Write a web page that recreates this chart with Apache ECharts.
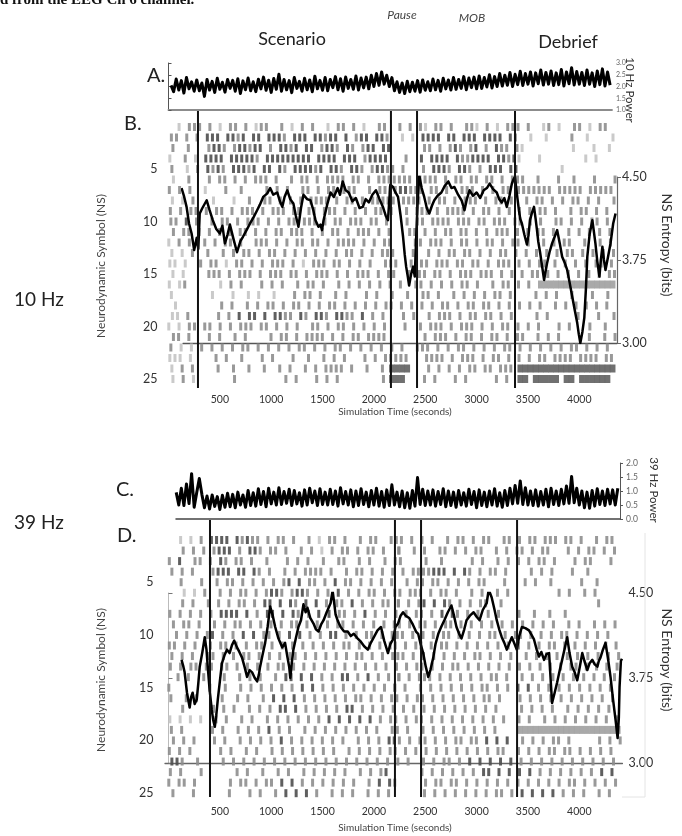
<!DOCTYPE html>
<html><head><meta charset="utf-8">
<script src="https://cdn.jsdelivr.net/npm/echarts@6/dist/echarts.min.js"></script>
<style>html,body{margin:0;padding:0;background:#fff}#c{width:682px;height:836px}</style>
</head><body><div id="c"></div>
<script>
// ---------------- data ----------------
const phaseLabels = ['Scenario','Pause','MOB','Debrief'];
const timeTicks = [500,1000,1500,2000,2500,3000,3500,4000];
const nsTicks = [5,10,15,20,25];
const entropyTicks = [3.00,3.75,4.50];
const eventTimesB = [287, 2166, 2420, 3374];
const eventTimesD = [404, 2205, 2459, 3394];

const powerStep = 25;
const powerStartA = 25;
const powerA = [
2.05,1.78,2.32,1.85,2.25,1.72,2.38,1.90,2.20,1.80,
2.28,1.82,2.15,1.58,2.30,1.85,2.22,1.75,2.35,1.88,
2.18,1.76,2.30,1.92,2.26,1.80,2.33,1.70,2.24,1.86,
2.36,1.82,2.20,1.78,2.31,1.90,2.40,1.84,2.27,1.75,
2.34,1.88,2.52,1.80,2.30,1.86,2.25,1.74,2.38,1.92,
2.22,1.80,2.35,1.86,2.28,1.78,2.44,1.90,2.26,1.84,
2.38,1.82,2.30,1.95,2.42,1.86,2.33,1.80,2.40,1.92,
2.30,1.88,2.45,1.85,2.36,1.94,2.40,1.90,2.48,2.00,
2.55,2.05,2.62,2.10,2.48,2.00,2.38,1.82,2.20,1.75,
2.15,1.70,2.22,1.78,2.18,1.80,2.25,1.76,2.28,1.84,
2.20,1.82,2.32,1.86,2.26,1.80,2.35,1.90,2.28,1.85,
2.38,1.88,2.30,1.92,2.42,1.86,2.36,1.95,2.40,1.90,
2.45,1.92,2.38,1.98,2.50,1.94,2.42,2.00,2.55,2.02,
2.48,2.05,2.60,2.00,2.52,2.08,2.65,2.04,2.55,2.10,
2.62,2.02,2.58,2.12,2.70,2.06,2.60,2.10,2.66,2.04,
2.58,2.08,2.72,2.02,2.62,2.12,2.80,2.06,2.64,2.10,
2.60,2.04,2.70,2.10,2.58,2.00,2.66,2.08,2.75,2.02,
2.62,2.06];

const powerStartC = 75;
const powerC = [
0.95,0.50,1.10,0.48,1.25,0.55,1.62,0.42,0.95,1.45,
0.88,0.40,0.82,0.36,0.86,0.45,0.80,0.34,0.85,0.42,
0.92,0.44,0.88,0.40,0.96,0.50,0.86,0.42,1.02,0.48,
0.94,0.46,1.08,0.52,0.98,0.44,1.10,0.54,0.96,0.50,
1.12,0.52,0.98,0.56,1.06,0.48,1.02,0.54,0.94,0.46,
1.04,0.50,1.10,0.58,1.00,0.48,1.08,0.52,0.96,0.50,
1.06,0.52,1.00,0.46,1.12,0.54,0.98,0.50,1.04,0.44,
1.00,0.48,1.08,0.52,0.96,0.44,1.02,0.50,1.10,0.46,
0.98,0.42,1.04,0.48,1.22,0.50,0.96,0.44,1.00,0.40,
0.94,0.38,1.02,0.46,1.48,0.52,1.06,0.48,1.00,0.50,
1.04,0.46,0.98,0.52,1.08,0.44,1.00,0.48,0.96,0.42,
1.02,0.50,0.94,0.46,1.06,0.52,0.98,0.40,1.04,0.48,
0.96,0.44,1.00,0.50,1.08,0.46,0.94,0.42,1.02,0.48,
1.10,0.54,1.20,0.56,1.36,0.52,1.12,0.50,1.00,0.48,
1.04,0.46,0.98,0.50,1.06,0.44,1.10,0.52,1.00,0.48,
1.06,0.54,1.18,0.56,1.52,0.58,1.10,0.50,1.00,0.40,
0.96,0.38,1.02,0.46,1.08,0.52,1.00,0.48,1.06,0.54,
1.04,0.50,1.10];

const entropyTimeB = [127,150,176,200,225,250,275,290,304,330,372,400,431,465,500,525,549,575,598,630,667,700,725,760,794,830,863,890,922,960,990,1020,1059,1085,1108,1130,1157,1185,1216,1240,1265,1290,1314,1350,1382,1410,1431,1460,1480,1495,1510,1545,1578,1610,1647,1670,1696,1725,1755,1790,1824,1860,1892,1920,1951,1985,2020,2055,2088,2115,2137,2160,2186,2210,2235,2260,2284,2300,2314,2330,2343,2362,2382,2398,2412,2425,2441,2465,2490,2515,2539,2565,2588,2620,2657,2690,2725,2755,2784,2820,2853,2870,2882,2905,2931,2965,3000,3035,3069,3100,3127,3160,3196,3220,3245,3270,3294,3320,3343,3360,3373,3392,3412,3425,3441,3465,3490,3505,3520,3540,3559,3575,3588,3600,3618,3640,3657,3670,3686,3710,3735,3760,3784,3810,3833,3860,3882,3905,3931,3955,3980,3995,4010,4030,4049,4065,4078,4100,4127,4140,4157,4175,4196,4210,4225,4240,4255,4280,4304,4330,4353];
const entropyB = [4.40,4.33,4.23,4.08,3.99,3.84,3.95,3.85,4.17,4.22,4.29,4.20,4.11,4.03,3.99,4.06,3.90,3.98,4.07,3.95,3.82,3.92,3.96,4.02,4.08,4.14,4.20,4.25,4.32,4.35,4.40,4.34,4.36,4.28,4.23,4.32,4.38,4.30,4.26,4.15,4.05,4.22,4.34,4.30,4.29,4.20,4.11,4.05,4.07,4.02,4.11,4.25,4.36,4.32,4.40,4.34,4.46,4.38,4.36,4.28,4.31,4.22,4.23,4.30,4.27,4.34,4.38,4.30,4.23,4.15,4.11,4.43,4.41,4.36,4.32,4.15,3.96,3.80,3.69,3.60,3.52,3.62,3.69,3.60,3.96,4.25,4.52,4.40,4.32,4.22,4.17,4.24,4.29,4.33,4.36,4.42,4.46,4.40,4.41,4.34,4.29,4.24,4.20,4.30,4.38,4.33,4.36,4.31,4.38,4.40,4.44,4.39,4.36,4.30,4.27,4.31,4.23,4.33,4.44,4.48,4.50,4.35,4.20,4.12,4.08,3.98,3.89,3.97,4.11,4.18,4.23,4.12,4.02,3.92,3.82,3.68,3.57,3.64,3.72,3.82,3.90,3.96,4.02,3.90,3.78,3.72,3.66,3.55,3.42,3.30,3.18,3.08,3.00,3.10,3.23,3.50,3.78,3.98,4.11,4.02,3.90,3.74,3.60,3.75,3.87,3.75,3.66,3.78,3.90,4.08,4.17];

const entropyTimeD = [127,145,157,180,206,220,235,255,275,290,304,330,353,370,382,400,421,435,451,465,480,500,520,545,569,595,618,640,667,690,716,740,765,790,814,840,863,880,892,915,941,965,990,1015,1039,1070,1108,1135,1157,1175,1186,1200,1216,1240,1265,1290,1314,1335,1353,1380,1412,1435,1461,1485,1510,1540,1578,1598,1615,1627,1650,1676,1710,1745,1775,1804,1840,1873,1905,1941,1970,2000,2035,2069,2100,2137,2160,2186,2210,2235,2260,2284,2310,2343,2380,2410,2431,2455,2480,2505,2529,2550,2578,2600,2627,2655,2686,2720,2755,2780,2804,2830,2853,2880,2902,2935,2971,3000,3029,3060,3098,3118,3147,3175,3196,3220,3245,3270,3294,3320,3343,3370,3392,3415,3441,3475,3510,3535,3559,3585,3608,3630,3657,3680,3706,3720,3735,3760,3784,3810,3833,3860,3882,3905,3931,3955,3980,4005,4029,4050,4078,4100,4127,4150,4176,4190,4206,4230,4255,4280,4304,4330,4353,4373,4385,4392,4405,4415];
const entropyD = [3.91,3.85,3.80,3.62,3.49,3.58,3.62,3.52,3.56,3.70,3.85,3.98,4.11,4.00,3.85,3.65,3.47,3.38,3.32,3.42,3.56,3.72,3.88,3.95,4.00,3.97,4.04,4.08,4.02,3.98,3.93,3.85,3.76,3.82,3.80,3.75,3.72,3.78,3.85,3.95,4.06,4.20,4.38,4.30,4.20,4.10,4.02,4.06,3.94,3.85,3.75,3.88,4.00,4.10,4.20,4.26,4.40,4.33,4.37,4.28,4.23,4.18,4.16,4.22,4.26,4.33,4.41,4.52,4.40,4.31,4.25,4.20,4.16,4.16,4.12,4.14,4.10,4.07,4.03,4.00,4.06,4.11,4.17,4.20,4.08,3.97,4.05,4.09,4.20,4.23,4.30,4.33,4.30,4.28,4.22,4.16,4.14,4.05,3.97,3.85,3.76,3.82,3.93,4.05,4.14,4.20,4.26,4.33,4.39,4.30,4.20,4.14,4.10,4.18,4.26,4.30,4.33,4.29,4.26,4.35,4.41,4.53,4.46,4.35,4.26,4.18,4.11,4.06,4.00,4.06,4.11,4.05,4.00,4.12,4.20,4.19,4.17,4.13,4.09,4.00,3.94,3.98,3.91,3.96,3.97,3.75,3.53,3.62,3.71,3.82,3.91,4.02,4.11,3.97,3.85,3.80,3.73,3.85,3.97,3.90,3.82,3.88,3.91,3.87,3.85,3.90,3.93,4.00,4.06,3.92,3.76,3.55,3.38,3.22,3.40,3.67,3.90,3.92];

// raster: one string per NS row (1..25); '|' separates segments starting at segStart times;
// one char per 50 s bin, offset by the row's own time shift (seconds)
const rasterBin = 50;
const segStartB = [0,300,2150,2450,3400];
const segStartD = [0,400,2200,2450,3400];
const rowShiftB = [0,25,40,10,30,45,5,35,15,20,45,0,30,10,40,5,25,15,35,0,45,20,10,30,40];
const rowShiftD = [15,40,5,30,20,0,35,10,45,25,5,30,15,40,0,20,35,10,25,45,5,30,15,0,40];
const rasterB = [
"..1.22|2.2.1.22.2.122..2.1.2.2..1.22.2.1..22|..2.2.|21.22.2..221.2.1.22|2.2..12.1..22.1.22.",
"22.2.2|.333.3323.33.3332.333.33233.3.233.332|..1.1.|3333.33.333.3333.32|..1..1....2..1....1",
"2..2..|.2332.233233.2.3323.33.2332.32.233.33|......|22.2.232.23.2.322.2|1.........1...1..1.",
"1..2.1|.3333.333332.333333333.3333.333.23333|...2..|3.3333.3223333.3323|1...1........1.1...",
"2..1.2|.3232.33323.33.32.333323.332.332.2332|2.2...|2.3332.332.2.333.33|........1..........",
"1..2..|.2.22.2.2.222.2..2.22.2.2222.22.2.222|2222.2|222.2.22.22.22.2.22|2..2...2..2...2...2",
"2.2.2.|.1...2..2....2.2.2..22.2.22.222..2.22|223322|2.22.2..222.2.2.22.|2222222.22222.22222",
"1.1.2.|..1...1..2..22.2.2.2.2222.2.22.2.2222|2.2222|.2.22.2.222.2.22.2.|.2.22.2.2.22.2.2..2",
"2.2.22|.2.22.2.222.2.222.22.22.222.2.2.2.22.|2..2.2|22.2.2222.2.22.2.2.|2.2.22.2..2.22.2.2.",
"22.3.2|..2.22.2.222.2.2.22.222.2.22.222.22.2|...2.2|2.2222.222.22.222.2|2.2.2..22.2.2.22.2.",
"2.22.2|.2.2.2.22.2.2.22.222.2.2.22.2.222.2.2|...22.|2.2.22.22.2.2.222.2|.2.22.2..2.2.2.2.2.",
"1.2.2.|.2.2.22.2..222.2.2.22.22.2.2222.2.2.2|2....2|2.222.2.22.2.22.2.2|2.2..2.2.22..2..2.2",
"1.1.2.|.2..2.2.22.2.22.2.2.2.2.2.2.22.2.2.22|2...2.|.2.2.22.22.2.2.22.2|.2.2.2.2.22.2.2.2.2",
"11.1..|2.22.1.22.2.2.222.2.1.222.22.2.2.2..2|22..2.|22.222.22.22.2.222.|2.2.22.2.2.2.2.22.2",
"1.1...|.222.2.222.2.222.22.2.222.2.2.222.2.2|2..2.2|2.22.2.222.222.2.2.|2.22.2.2.2.2.2.2.22",
"1.12..|....1.2.2...2.2.2..2.22.2..2.2.2.2.2.|2.2..2|2.2.2.2.22.2..2.22.|2.2.ggggggggggggggg",
"1.....|..1...1..1.1..1...2.22.2..2.2...2.2..|2..2..|22.2..2.2.2.2.22.2.|...2.2.2..2...2..2.",
".1....|....2.2..2.2.22.2.22.2.2.22.2.2.2.2.2|2.2.2.|2.2.22.2.22.22.2.2.|2.2.2..2.2.2.2.2.2.",
"11.2..|...2.2.3.33.3.3322.32.332.3322.3.2.2.|..2.2.|.2.222.2.22.22.2.2.|...2.2.....2...2..2",
"1.1.22|.22.2.2.222.22.2.2.2..22.2.22.2.2.2.2|...2..|2.222.2.222.2.2.22.|2.2.2...2.2...2..2.",
"22.2..|.2.2..2.2....2.22.2.2222.2.2.22.2222.|......|2.222.2.22.2.22.2.2|2..2.2.2.....2..2.2",
"2.1.1.|2.2.2.2.22.2.2.2.2.22.2.2.22.2.2.2.2.2|2.2..2|22.2.2.22.2.2.2.22.|2.2.2.2.2.22.2.2.2.",
"111.1.|...2.2..2...2.2...2..2..2.2.2...2.2.2|2222..|.2222.2.222.2.22.2.|2.2.22.2222.2222.22",
"1.2.2.|...2..2..2..2..2.2..2.2.2222.2..2..2.|GGGG..|.2.2.2.2.22.22.222.|GGGGGGGGGGGGGGGGGGG",
"1.2.1.|......2.........2.2...2.2.2........2.|GGG...|2.2...2.2.....2.2..|GG.GGGGG.GG.GGGGGG"
];
const rasterD = [
"..1.1.2.|3333.32322.2.22.2..2.1.22.2..2.22..22|.2.2.|2.2..2.22.2.22..22.|2.22.222.22.2..2.22.",
"..2.2.2.|2333.2.332.22.2..2.2.1.2.22.2.22.2..2|2..2.|2..22.2.2.22..2.2.2|2.2.22...2.2.22.2.2.",
"2.3..22.|2.32.22.2..2...2.2.2..2..22..2.2..2.|22...|.2..2.....2.2..2.2.|2.2.22.2...2.22...2.",
"2.2.2...|2333.33.32.2..2.2.2222.2..2.22.2.2.2.|.2.22|22333.3.32.2.22.2..|..2.2.2...2..2......",
"..2...2.|.2.22.2.2.2.2.23.3.22.2.3.22.2.2.2.2|..2.2|2.22.2.2.2.22...2..|.2.2..2.....2..2....",
"...1.1.2|..2.2.22.2.2332.2332.2.2.3.2.2.22.2.2|.2.22|2.2.22.2..2.2..2.2.|........2.2..2.2....",
"..2.2..2|.2.2.22.2.33.3.32.3.3.2.22.3.2.2.22.2|2.2.2|3.3.32.2.2.22..2...|...............2....",
"2.2.2.2.|2.3333.3.2.33.3.32.2.3.3.22.2.3.2.2.2|2.2.2|2.2.3.32.2.2.2.2...|2..2..2..2..........",
"2.22.2..|2.2.22.2.2.2.2.22.2.2.2.22.2.2.2.2.2.|2.2.2|2.2.22.2.2.2.2.2.2.|2.2.2.2..2.2..2.2.2.",
".2.2.2.2|3.2.2.3.3.22.2.3.3.2.2.33.2.2.22.2.2.|22.2.|2.2.22.2.2.2.22.2.2|2.2.2.2.22.2.2.2.2..",
"22.2.2..|2.22.2.2.22.2.2.2.2.2.2.2.22.2.2.2.2.|2.2.2|2.2.22.2.2.2.2.2.2.|2.2.2.22.2.2.2.2.2.2",
"2.2.2..2|2.2.2.22.2.2.2.22.2.2.2.2.2.22.2.2.2.|22.2.|2.2.2.2.2.22.2.2.2.|.2.2.2.2.2.2.2.2.2.2",
"2.2.22.2|2.22.2.2.2.2.22.2.2.2.2.2.2.2.2.2.2.2|2.2.2|2.2.2.22.2.2.2.2.2.|2.2.2.2.2.22.2.2.2.2",
".2.2..2.|..2..2.2.2..2.33.3.3.2.2.33.2.3.2.2.2|2.2.2|22.2.2.2.2.2.22.2..|2.2.2.2.2.2.2.2.2.2.",
"2.......|2..2..2.2.2.2.2.2.3.3.2.2.2.2.2.2.2.2|2.2..|2.2.2.2.2.2.22.2.2.|3.3.2.2.2.2.2.2.2.2.",
"2..2.2..|..2..2.2..2.3.3.3.2.2.2.2.2.22.2.2.2.|2.2.2|2.2.2.2.2.2.22.2...|2.2.2.2.2.2.2.2.2.2.",
"..2.....|2.2.2..2.2.2.33.3.2.2.2.2.33.2.2.2.2.|.2.2.|2.2.2.2.2.2.2.2....|2.2.2.2..2.2.2.2.2..",
"1.1.1.1.|.2.2..2.2..2.2.2.2.2.2.3.3.3.3.3.2.2.|2.2.2|2.2.2.2.2.2.2.2.2..|2.2..2.2.2.2.2.2.2.2",
"2.2.....|2.2..2.2.2.3.2.2..2.2.2.2.2.2.2.2..2.|2.2..|2.2.2.2.2.2.2.2....|gggggggggggggggggggg",
"2.2.2...|2.2..2.2.2.2.3.2.2.2.2.2.2..2.2.2.33.|2.2.2|2.2.2.22.22.3.3.3..|2.2.2.22.2.....2.2.2",
"2.2.2...|..2.2..2.2..2.2.2.2.2.2.2..2.2.2.2.2.|2.2.2|.2.2.2.2.2.2.2.22..|2.2.2.22.22.2.2.2.2.",
"332..2..|..2.2.2.2.2.2.2.2.2.2.2.2.2.2.2.2.2..|2.2..|2.2.22.2.3.3.3.3.3.|2.2.2.2.2.2.2.2.2.2.",
"2.2...2.|.....2.2..2..2.2..2.2.2.2.2..2.2.23.|.....|2.2.2.2.2.2.33.3.3.|3.3.2.2.2.2.2.2.3.3.",
"2.22.2..|....2.22.2.22.3.3.2.2.2.2.2.2..2.3.3.|2....|.2.22.22.2.2.2.2.2.|2.2.2.2.2.22.2.2.2.2",
"2...2...|...2...2.2..2.3.3.3.2..2.2.2..2.2.2..|.....|2.2.2.2.2.2.2.22.2.|3.3.3.3.2.2.2..2.2.."
];

// ---------------- helpers ----------------
const SHADE = {'1':'#c4c4c4','2':'#8e8e8e','3':'#4e4e4e','g':'#a0a0a0','G':'#606060'};
function rasterData(rows, segStart, shifts){
  const out=[];
  rows.forEach((s,r)=>{
    s.split('|').forEach((seg,k)=>{
      for(let i=0;i<seg.length;i++){
        const ch=seg[i]; if(!SHADE[ch]) continue;
        const wide = (ch==='g'||ch==='G');
        const t = segStart[k]+(i+0.5)*rasterBin + (wide?0:shifts[r]-22);
        out.push({value:[t, r+1], symbolSize:[wide?5.6:3, 8], itemStyle:{color:SHADE[ch]}});
      }
    });
  });
  return out;
}
const pairs=(ts,vs)=>ts.slice(0,Math.min(ts.length,vs.length)).map((t,i)=>[t,vs[i]]);
const sampled=(start,vals)=>vals.map((v,i)=>[start+i*powerStep, v]);

const K = 0.1027;           // px per second
const X0 = 168.5;           // x pixel of t = 0
const FONT = 'Lato';
function gridX(min,max){ return {left: X0+min*K, width:(max-min)*K}; }

const hiddenX = (gi,min,max,extra)=>Object.assign({type:'value',gridIndex:gi,min:min,max:max,show:true,
  axisLine:{show:false},axisTick:{show:false},axisLabel:{show:false},splitLine:{show:false}},extra||{});
const hiddenY = (gi,min,max,extra)=>Object.assign({type:'value',gridIndex:gi,min:min,max:max,
  axisLine:{show:false},axisTick:{show:false},axisLabel:{show:false},splitLine:{show:false}},extra||{});

const timeLabel = v => timeTicks.indexOf(v)>=0 ? String(v) : '';
const nsLabel = v => nsTicks.indexOf(v)>=0 ? String(v) : '';
const entLabel = v => entropyTicks.some(e=>Math.abs(e-v)<1e-6) ? v.toFixed(2) : '';

const grids = [
  Object.assign({top:63, height:47}, gridX(0,4318)),          //0 A power
  Object.assign({top:116.5, height:273}, gridX(0,4450)),      //1 B raster
  Object.assign({top:177, height:166}, gridX(141,4367)),      //2 B entropy
  Object.assign({top:111, height:277}, gridX(0,4450)),        //3 B events
  Object.assign({top:463, height:56}, gridX(73,4396)),        //4 C power
  Object.assign({top:529.45, height:274.3}, gridX(0,4450)),   //5 D raster
  Object.assign({top:593, height:170}, gridX(-34,4420)),      //6 D entropy
  Object.assign({top:520, height:277}, gridX(0,4450))         //7 D events
].map(g=>Object.assign({containLabel:false, outerBoundsMode:'none'}, g));

const xAxes = [
  hiddenX(0,0,4318,{axisLine:{show:true,lineStyle:{color:'#8c8c8c',width:2}}}),
  hiddenX(1,0,4450,{interval:500,axisLabel:{show:true,formatter:timeLabel,color:'#333',fontSize:10.5,fontFamily:FONT,margin:5,showMinLabel:false,showMaxLabel:false}}),
  hiddenX(2,141,4367,{axisLine:{show:true,onZero:false,lineStyle:{color:'#555',width:1.3}}}),
  hiddenX(3,0,4450),
  hiddenX(4,73,4396,{axisLine:{show:true,lineStyle:{color:'#444',width:1.5}}}),
  hiddenX(5,0,4450,{interval:500,axisLabel:{show:true,formatter:timeLabel,color:'#333',fontSize:10.5,fontFamily:FONT,margin:2,showMinLabel:false,showMaxLabel:false}}),
  hiddenX(6,-34,4420,{axisLine:{show:true,onZero:false,lineStyle:{color:'#666',width:1.3}}}),
  hiddenX(7,0,4450)
];

const yAxes = [
  {type:'value',gridIndex:0,position:'right',min:1,max:3,interval:0.5,
   axisLine:{show:true,lineStyle:{color:'#555',width:1}},axisTick:{show:true,length:3,lineStyle:{color:'#555'}},
   axisLabel:{color:'#666',fontSize:7,fontFamily:FONT,margin:4,formatter:v=>v.toFixed(1)},splitLine:{show:false}},
  {type:'value',gridIndex:1,inverse:true,min:0,max:26,interval:5,
   axisLine:{show:false},axisTick:{show:false},splitLine:{show:false},
   axisLabel:{formatter:nsLabel,color:'#333',fontSize:12.5,fontFamily:FONT,margin:11}},
  {type:'value',gridIndex:2,position:'right',min:3,max:4.5,interval:0.75,
   axisLine:{show:true,lineStyle:{color:'#666',width:1.2}},axisTick:{show:true,length:4,lineStyle:{color:'#666'}},
   axisLabel:{formatter:entLabel,color:'#333',fontSize:12.5,fontFamily:FONT,margin:5},splitLine:{show:false}},
  hiddenY(3,0,1),
  {type:'value',gridIndex:4,position:'right',min:0,max:2,interval:0.5,
   axisLine:{show:true,lineStyle:{color:'#555',width:1}},axisTick:{show:true,length:3,lineStyle:{color:'#555'}},
   axisLabel:{color:'#666',fontSize:8.5,fontFamily:FONT,margin:6,formatter:v=>v.toFixed(1)},splitLine:{show:false}},
  {type:'value',gridIndex:5,inverse:true,min:0,max:26,interval:5,
   axisLine:{show:false},axisTick:{show:false},splitLine:{show:false},
   axisLabel:{formatter:nsLabel,color:'#333',fontSize:12.5,fontFamily:FONT,margin:15}},
  {type:'value',gridIndex:6,position:'right',min:3,max:4.5,interval:0.75,
   axisLine:{show:true,lineStyle:{color:'#bbb',width:1}},axisTick:{show:true,length:4,lineStyle:{color:'#777'}},
   axisLabel:{formatter:entLabel,color:'#333',fontSize:12.5,fontFamily:FONT,margin:6},splitLine:{show:false}},
  hiddenY(7,0,1)
];

const lineSeries = (xi,yi,data,w,z)=>({type:'line',xAxisIndex:xi,yAxisIndex:yi,data:data,showSymbol:false,symbol:'none',
  lineStyle:{color:'#000',width:w,join:'round'},z:z,silent:true,animation:false,clip:true});
const eventSeries = (xi,yi,times)=>times.map(t=>({type:'line',xAxisIndex:xi,yAxisIndex:yi,data:[[t,0],[t,1]],symbol:'none',
  lineStyle:{color:'#111',width:2},z:5,silent:true,animation:false}));
const rasterSeries = (xi,yi,rows,seg,sh)=>({type:'scatter',xAxisIndex:xi,yAxisIndex:yi,symbol:'rect',large:false,
  data:rasterData(rows,seg,sh),itemStyle:{opacity:0.9},z:2,silent:true,animation:false});

const series = [
  lineSeries(0,0,sampled(powerStartA,powerA),3,3),
  rasterSeries(1,1,rasterB,segStartB,rowShiftB),
  lineSeries(2,2,pairs(entropyTimeB,entropyB),2.5,4),
  ...eventSeries(3,3,eventTimesB),
  lineSeries(4,4,sampled(powerStartC,powerC),3,3),
  rasterSeries(5,5,rasterD,segStartD,rowShiftD),
  lineSeries(6,6,pairs(entropyTimeD,entropyD),2.5,4),
  ...eventSeries(7,7,eventTimesD)
];

function txt(x,y,text,size,opts){
  opts=opts||{};
  return {type:'text',x:x,y:y,rotation:opts.rot||0,silent:true,z:10,
    style:{text:text,fontSize:size,fontFamily:opts.family||FONT,fontStyle:opts.style||'normal',fontWeight:opts.weight||'normal',
      fill:opts.fill||'#222',align:opts.align||'center',verticalAlign:'middle'}};
}
const graphics = [
  txt(0,0,'d from the EEG Ch 6 channel.',15,{align:'left',family:'Liberation Serif',weight:'bold',fill:'#111'}),
  txt(292,39,phaseLabels[0],18),
  txt(402,15,phaseLabels[1],12,{style:'italic',fill:'#444'}),
  txt(472,18,phaseLabels[2],12,{style:'italic',fill:'#444'}),
  txt(568,42,phaseLabels[3],18),
  txt(147,76,'A.',20,{align:'left'}),
  txt(124,124,'B.',20,{align:'left'}),
  txt(116,490,'C.',20,{align:'left'}),
  txt(117,536,'D.',20,{align:'left'}),
  txt(14,300,'10 Hz',19,{align:'left'}),
  txt(14,523,'39 Hz',19,{align:'left'}),
  txt(101,266,'Neurodynamic Symbol (NS)',12,{rot:Math.PI/2,fill:'#444'}),
  txt(101,680,'Neurodynamic Symbol (NS)',12,{rot:Math.PI/2,fill:'#444'}),
  txt(667,245,'NS Entropy (bits)',14,{rot:-Math.PI/2,fill:'#333'}),
  txt(667,660,'NS Entropy (bits)',14,{rot:-Math.PI/2,fill:'#333'}),
  txt(630,90,'10 Hz Power',11.5,{rot:-Math.PI/2,fill:'#333'}),
  txt(654,490,'39 Hz Power',11.5,{rot:-Math.PI/2,fill:'#333'}),
  txt(395,412,'Simulation Time (seconds)',10,{fill:'#444'}),
  txt(395,828,'Simulation Time (seconds)',10,{fill:'#444'}),
  {type:'polyline',silent:true,z:1,shape:{points:[[622,797],[645,797],[645,533]]},style:{stroke:'#e4e4e4',lineWidth:1,fill:null}}
];

const chart = echarts.init(document.getElementById('c'), null, {renderer:'canvas'});
chart.setOption({
  animation:false,
  backgroundColor:'#fff',
  grid:grids, xAxis:xAxes, yAxis:yAxes, series:series, graphic:graphics
});
</script></body></html>
